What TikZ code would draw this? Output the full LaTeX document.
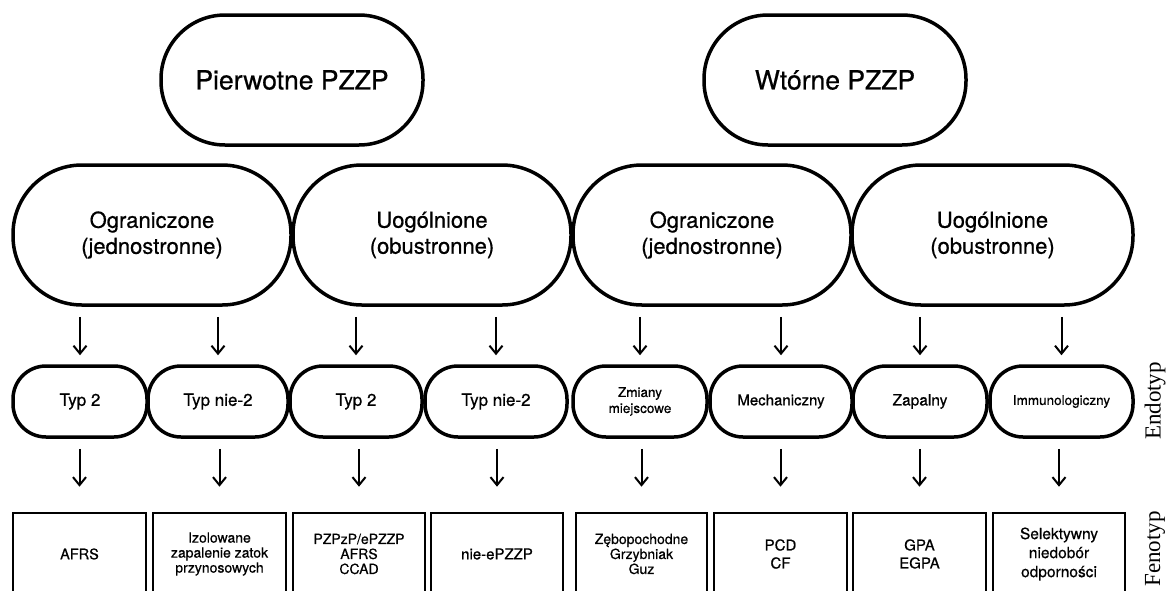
\documentclass[tikz,border=0pt]{standalone}
\usepackage{fontspec}
\setmainfont{TeX Gyre Heros}[FakeBold=0.6]
\newfontfamily\sidefont{Liberation Serif}
\usetikzlibrary{arrows.meta}

\newcommand\fsz[2]{\fontsize{#1}{#2}\selectfont}

\begin{document}
\begin{tikzpicture}[x=1pt, y=-1pt,
  pill/.style={draw, line width=3.5pt, align=center, inner sep=0pt},
  toppill/.style={pill, rounded corners=64pt, minimum width=262pt,
    minimum height=130pt, font=\fsz{26.5}{30}},
  midpill/.style={pill, rounded corners=69pt, minimum width=278pt,
    minimum height=140pt, font=\fsz{22}{26}},
  endo/.style={pill, rounded corners=33pt, minimum height=71pt,
    font=\fsz{17}{20}},
  feno/.style={draw, line width=2.6pt, align=center, inner sep=0pt,
    minimum width=133pt, minimum height=82pt, font=\fsz{14}{15}},
  arr/.style={line width=2pt, -{Straight Barb[length=8pt,width=13pt]}},
  side/.style={rotate=90, font=\sidefont\fsz{23}{26}}]

  \useasboundingbox (0,0) rectangle (1168,590);
  \clip (0,0) rectangle (1168,590);

  % top row
  \node[toppill] (p1) at (292,80) {Pierwotne PZZP};
  \node[toppill] (p2) at (835,80) {Wtórne PZZP};

  % second row
  \node[midpill] (o1) at (152,235) {Ograniczone\\(jednostronne)};
  \node[midpill] (o2) at (432,235) {Uogólnione\\(obustronne)};
  \node[midpill] (o3) at (712,235) {Ograniczone\\(jednostronne)};
  \node[midpill, minimum width=281pt] (o4) at (992.5,235) {Uogólnione\\(obustronne)};

  % endotypes
  \node[endo, minimum width=134pt] (e1) at (80,401.5) {Typ 2};
  \node[endo, minimum width=140pt] (e2) at (218,401.5) {Typ nie-2};
  \node[endo, minimum width=132pt] (e3) at (356,401.5) {Typ 2};
  \node[endo, minimum width=142pt] (e4) at (496,401.5) {Typ nie-2};
  \node[endo, minimum width=134pt, font=\fsz{13.5}{16}] (e5) at (640,401.5) {Zmiany\\miejscowe};
  \node[endo, minimum width=142pt, font=\fsz{15}{18}] (e6) at (781,401.5) {Mechaniczny};
  \node[endo, minimum width=134pt, font=\fsz{15.5}{18}] (e7) at (920,401.5) {Zapalny};
  \node[endo, minimum width=143pt, font=\fsz{13.5}{16}] (e8) at (1061.5,401.5) {Immunologiczny};

  % phenotypes
  \node[feno, font=\fsz{14.5}{15}] (f1) at (79.5,554) {AFRS};
  \node[feno] (f2) at (219.5,554) {Izolowane\\zapalenie zatok\\przynosowych};
  \node[feno, minimum width=132pt] (f3) at (359,554) {PZPzP/ePZZP\\AFRS\\CCAD};
  \node[feno, minimum width=132pt, font=\fsz{15}{18}] (f4) at (497,554) {nie-ePZZP};
  \node[feno, minimum width=131pt] (f5) at (641.5,554) {Zębopochodne\\Grzybniak\\Guz};
  \node[feno, font=\fsz{15}{18}] (f6) at (780.5,554) {PCD\\CF};
  \node[feno, font=\fsz{15}{18}] (f7) at (919.5,554) {GPA\\EGPA};
  \node[feno, minimum width=132pt, font=\fsz{15.5}{19}] (f8) at (1059,554) {Selektywny\\niedobór\\odporności};

  % arrows
  \foreach \o/\e in {o1/e1, o1/e2, o2/e3, o2/e4, o3/e5, o3/e6, o4/e7, o4/e8}
    \draw[arr, shorten <=10pt, shorten >=9pt] (\o.south -| \e.north) -- (\e.north);
  \foreach \i in {1,...,8}
    \draw[arr, shorten <=10pt, shorten >=25pt] (e\i.south -| f\i.north) -- (f\i.north);

  % side labels
  \node[side] (endolbl) at (1155,401) {Endotyp};
  \node[side] (fenolbl) at (1155,549) {Fenotyp};
\end{tikzpicture}
\end{document}
